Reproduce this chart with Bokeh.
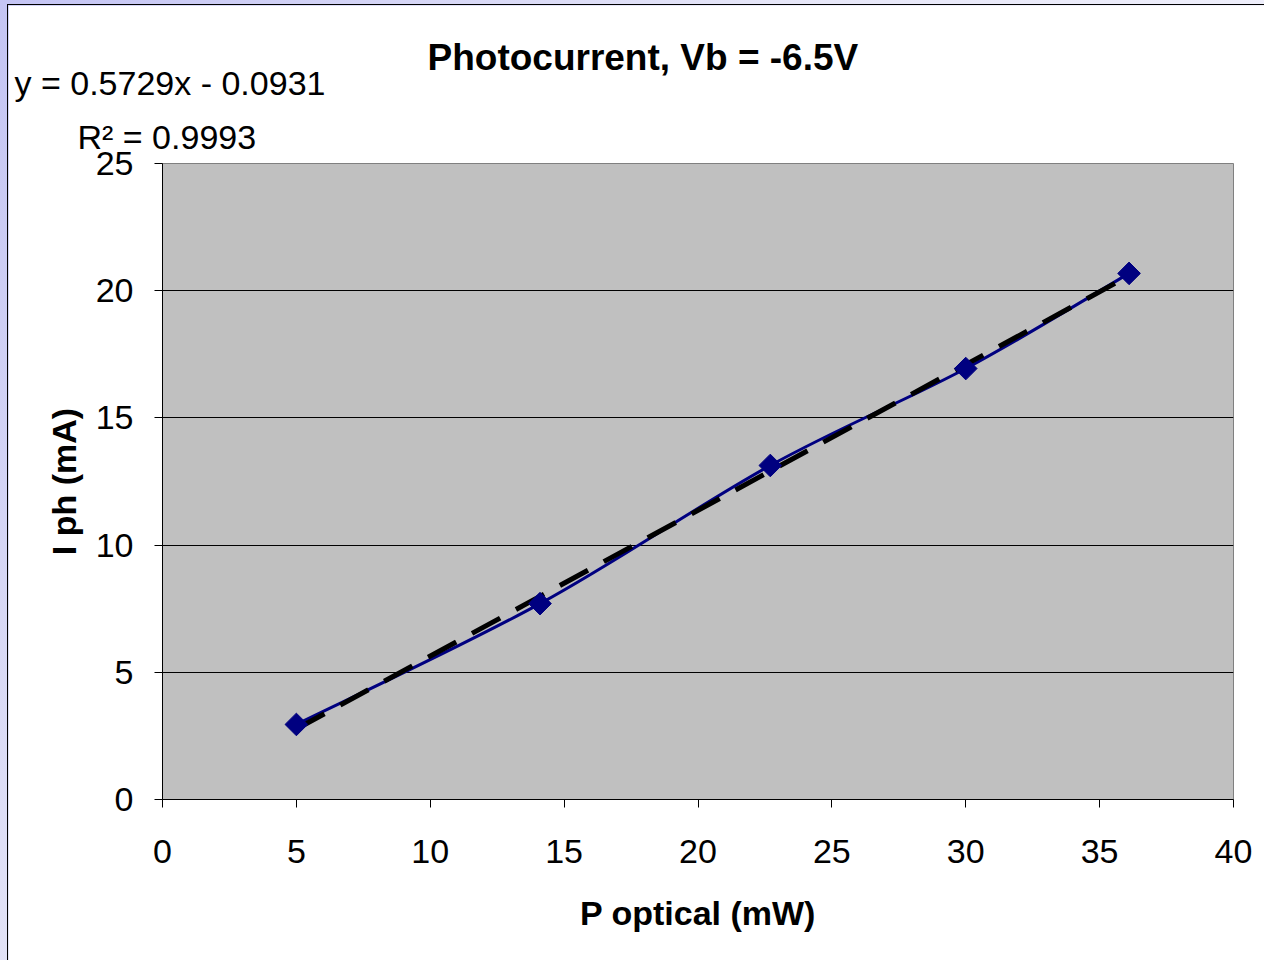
import numpy as np
from bokeh.plotting import figure
from bokeh.models import Range1d, FixedTicker, Title, Spacer
from bokeh.layouts import row, column
from bokeh.embed import file_html
from bokeh.resources import INLINE

# ---- data ----
p_optical = [5.0, 14.1, 22.7, 30.0, 36.1]      # mW
i_ph = [2.95, 7.70, 13.13, 16.94, 20.68]       # mA
fit_slope = 0.5729
fit_intercept = -0.0931
r2_value = "0.9993"
x_ticks = [0, 5, 10, 15, 20, 25, 30, 35, 40]
y_ticks = [0, 5, 10, 15, 20, 25]
title_text = "Photocurrent, Vb = -6.5V"
eq_text = "y = 0.5729x - 0.0931"
r2_text = "R\u00b2 = " + r2_value
x_title = "P optical (mW)"
y_title = "I ph (mA)"

FONT = "Liberation Sans"
NAVY = "#000080"

p = figure(width=1256, height=955,
           x_range=Range1d(0, 40), y_range=Range1d(0, 25),
           output_backend="svg", toolbar_location=None,
           min_border_left=154, min_border_right=31,
           min_border_top=158, min_border_bottom=161)
p.background_fill_color = "#C0C0C0"
p.border_fill_color = "white"
p.outline_line_color = "#808080"
p.outline_line_width = 1
p.xgrid.visible = False
p.ygrid.grid_line_color = "black"
p.ygrid.grid_line_width = 1
p.ygrid.ticker = FixedTicker(ticks=y_ticks)

for ax, ticks in ((p.xaxis, x_ticks), (p.yaxis, y_ticks)):
    ax.ticker = FixedTicker(ticks=ticks)
    ax.axis_line_color = "black"
    ax.axis_line_width = 1
    ax.major_tick_line_color = "black"
    ax.major_tick_out = 8
    ax.major_tick_in = 0
    ax.minor_tick_out = 0
    ax.minor_tick_in = 0
    ax.major_label_text_font = FONT
    ax.major_label_text_font_size = "34px"
    ax.major_label_text_color = "black"
    ax.axis_label_text_font = FONT
    ax.axis_label_text_font_size = "34px"
    ax.axis_label_text_font_style = "bold"
    ax.axis_label_text_color = "black"

p.xaxis.axis_label = x_title
p.yaxis.axis_label = y_title
p.xaxis.major_label_standoff = 32
p.yaxis.major_label_standoff = 21
p.xaxis.axis_label_standoff = 28
p.yaxis.axis_label_standoff = 10

# smoothed data line (Catmull-Rom -> cubic Bezier through the data points)
xs = np.array(p_optical)
ys = np.array(i_ph)
xp = np.concatenate([[xs[0]], xs, [xs[-1]]])
yp = np.concatenate([[ys[0]], ys, [ys[-1]]])
n = len(xs)
x0 = xs[:-1]; y0 = ys[:-1]; x1 = xs[1:]; y1 = ys[1:]
cx0 = x0 + (xp[2:n + 1] - xp[0:n - 1]) / 6.0
cy0 = y0 + (yp[2:n + 1] - yp[0:n - 1]) / 6.0
cx1 = x1 - (xp[3:n + 2] - xp[1:n]) / 6.0
cy1 = y1 - (yp[3:n + 2] - yp[1:n]) / 6.0
p.bezier(x0=x0, y0=y0, x1=x1, y1=y1, cx0=cx0, cy0=cy0, cx1=cx1, cy1=cy1,
         line_color=NAVY, line_width=3)

# linear trend line
fit_x = np.array([min(p_optical), max(p_optical)])
fit_y = fit_slope * fit_x + fit_intercept
p.line(fit_x, fit_y, line_color="black", line_width=5, line_dash="32 18")

# markers
p.scatter(p_optical, i_ph, marker="square", size=16, angle=np.pi / 4,
          fill_color=NAVY, line_color=NAVY)

# ---- header texts as titles stacked above the frame (first added = nearest) ----
FRAME_LEFT = 162  # page x of frame's left edge

def title(text, page_left, size, standoff, bold=False):
    return Title(text=text, align="left", offset=page_left - FRAME_LEFT,
                 standoff=standoff, vertical_align="bottom",
                 text_font=FONT, text_font_size=size,
                 text_font_style="bold" if bold else "normal", text_color="black")

p.add_layout(title(r2_text, 77, "34px", 16.0), "above")
p.add_layout(title(eq_text, 14, "34px", 10.4), "above")
p.add_layout(title(title_text, 427, "37px", -41.6, bold=True), "above")

black = {"background-color": "#000000"}
layout = row(
    Spacer(width=7, height=960),
    column(
        Spacer(width=1257, height=4),
        Spacer(width=1257, height=1, styles=black),
        row(Spacer(width=1, height=955, styles=black), p),
    ),
    styles={"background": "linear-gradient(125deg, #C4C4F4 0%, #E6E6F8 40%, #FAFAFF 100%)"},
)

open("out.html", "w").write(file_html(layout, INLINE))
